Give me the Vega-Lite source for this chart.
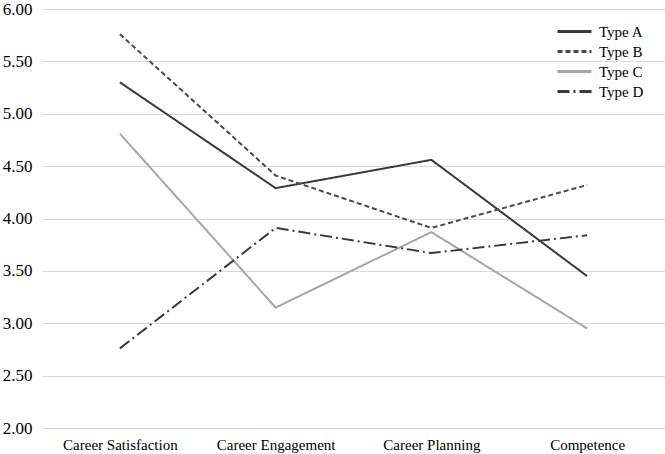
{
  "$schema": "https://vega.github.io/schema/vega-lite/v6.json",
  "width": 623,
  "height": 419,
  "autosize": {"type": "none"},
  "padding": {"left": 42, "top": 9, "right": 0, "bottom": 26},
  "background": "white",
  "config": {
    "view": {"stroke": null},
    "font": "Liberation Serif"
  },
  "data": {
    "values": [
      {"measure": "Career Satisfaction", "type": "Type A", "value": 5.30},
      {"measure": "Career Engagement", "type": "Type A", "value": 4.29},
      {"measure": "Career Planning", "type": "Type A", "value": 4.56},
      {"measure": "Competence", "type": "Type A", "value": 3.45},
      {"measure": "Career Satisfaction", "type": "Type B", "value": 5.76},
      {"measure": "Career Engagement", "type": "Type B", "value": 4.41},
      {"measure": "Career Planning", "type": "Type B", "value": 3.91},
      {"measure": "Competence", "type": "Type B", "value": 4.32},
      {"measure": "Career Satisfaction", "type": "Type C", "value": 4.81},
      {"measure": "Career Engagement", "type": "Type C", "value": 3.15},
      {"measure": "Career Planning", "type": "Type C", "value": 3.87},
      {"measure": "Competence", "type": "Type C", "value": 2.95},
      {"measure": "Career Satisfaction", "type": "Type D", "value": 2.76},
      {"measure": "Career Engagement", "type": "Type D", "value": 3.91},
      {"measure": "Career Planning", "type": "Type D", "value": 3.67},
      {"measure": "Competence", "type": "Type D", "value": 3.84}
    ]
  },
  "mark": {"type": "line", "strokeWidth": 2},
  "encoding": {
    "x": {
      "field": "measure",
      "type": "nominal",
      "sort": ["Career Satisfaction", "Career Engagement", "Career Planning", "Competence"],
      "scale": {"type": "point", "padding": 0.5},
      "axis": {
        "title": null,
        "labelAngle": 0,
        "domain": false,
        "ticks": false,
        "grid": false,
        "labelFont": "Liberation Serif",
        "labelFontSize": 15,
        "labelColor": "#000000",
        "labelPadding": 9
      }
    },
    "y": {
      "field": "value",
      "type": "quantitative",
      "scale": {"domain": [2, 6], "nice": false, "zero": false},
      "axis": {
        "title": null,
        "values": [2, 2.5, 3, 3.5, 4, 4.5, 5, 5.5, 6],
        "format": ".2f",
        "domain": false,
        "ticks": false,
        "grid": true,
        "gridColor": "#d9d9d9",
        "gridWidth": 1.2,
        "labelFont": "Liberation Serif",
        "labelFontSize": 17,
        "labelColor": "#000000",
        "labelPadding": 10
      }
    },
    "color": {
      "field": "type",
      "type": "nominal",
      "scale": {
        "domain": ["Type A", "Type B", "Type C", "Type D"],
        "range": ["#3a3a3a", "#4a4a4a", "#a6a6a6", "#3a3a3a"]
      },
      "legend": {
        "title": null,
        "orient": "none",
        "legendX": 521,
        "legendY": 11,
        "padding": 0,
        "symbolType": "M-1.7,0L1.7,0",
        "symbolSize": 400,
        "symbolStrokeWidth": 3,
        "labelFont": "Liberation Serif",
        "labelFontSize": 15,
        "labelColor": "#000000",
        "labelOffset": 13,
        "rowPadding": 0
      }
    },
    "strokeDash": {
      "field": "type",
      "type": "nominal",
      "scale": {
        "domain": ["Type A", "Type B", "Type C", "Type D"],
        "range": [[1, 0], [5, 3], [1, 0], [12, 4, 2, 4]]
      },
      "legend": {
        "title": null,
        "orient": "none",
        "legendX": 521,
        "legendY": 11,
        "padding": 0,
        "symbolType": "M-1.7,0L1.7,0",
        "symbolSize": 400,
        "symbolStrokeWidth": 3,
        "labelFont": "Liberation Serif",
        "labelFontSize": 15,
        "labelColor": "#000000",
        "labelOffset": 13,
        "rowPadding": 0
      }
    }
  }
}
